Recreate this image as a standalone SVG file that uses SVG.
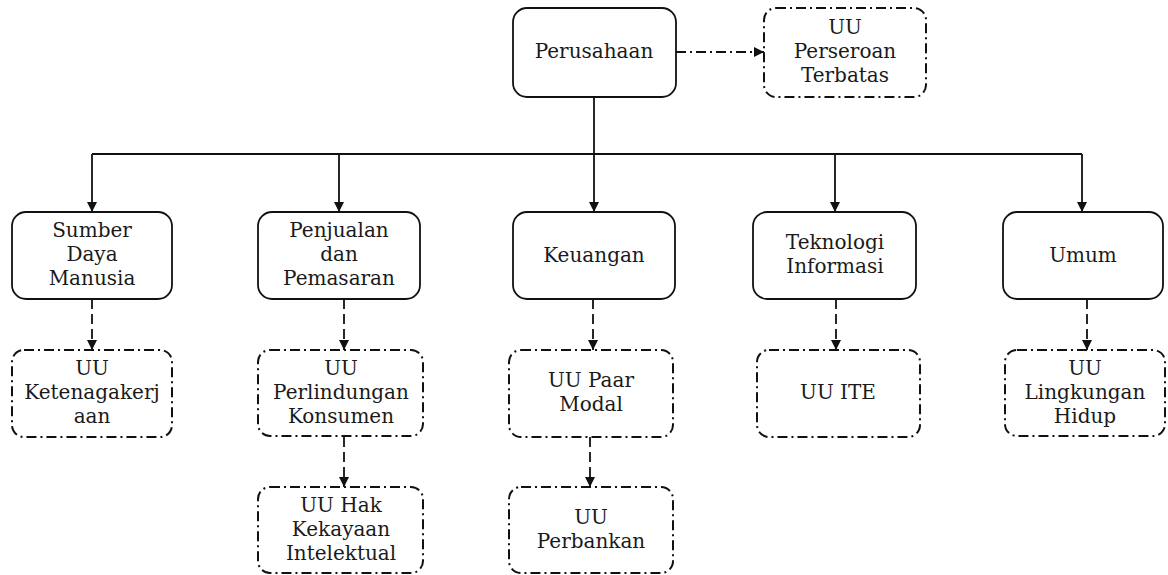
<svg xmlns="http://www.w3.org/2000/svg" width="1168" height="575" viewBox="0 0 1168 575">
  <style>
    .solid { fill: #fff; stroke: #111; stroke-width: 1.8; }
    .law { fill: #fff; stroke: #111; stroke-width: 2; stroke-dasharray: 10 4 2 4; }
    .lbl { font-family: "DejaVu Serif", "Liberation Serif", serif; font-size: 20px; fill: #1a1a1a; text-anchor: middle; }
    .tree { fill: none; stroke: #111; stroke-width: 1.8; }
    .dash { fill: none; stroke: #111; stroke-width: 1.8; stroke-dasharray: 10 5; }
    .dashdot { fill: none; stroke: #111; stroke-width: 1.8; stroke-dasharray: 10 4 2 4; }
  </style>
  <defs>
    <marker id="arrow" viewBox="0 0 10 10" refX="10" refY="5" markerWidth="10" markerHeight="10" markerUnits="userSpaceOnUse" orient="auto">
      <path d="M0,0 L10,5 L0,10 Z" fill="#111"/>
    </marker>
  </defs>

  <rect width="1168" height="575" fill="#fff"/>

  <!-- connectors -->
  <g id="connectors">
    <path class="tree" d="M594,97 V154" stroke-width="2.6"/>
    <path class="tree" d="M92,154 H1082"/>
    <path class="tree" d="M92,154 V212" marker-end="url(#arrow)"/>
    <path class="tree" d="M339,154 V212" marker-end="url(#arrow)"/>
    <path class="tree" d="M594,154 V212" marker-end="url(#arrow)"/>
    <path class="tree" d="M835,154 V212" marker-end="url(#arrow)"/>
    <path class="tree" d="M1082,154 V212" marker-end="url(#arrow)"/>
    <path class="dashdot" d="M676,52 H764" marker-end="url(#arrow)"/>
    <path class="dash" d="M92,299 V350" marker-end="url(#arrow)"/>
    <path class="dash" d="M344,299 V350" marker-end="url(#arrow)"/>
    <path class="dash" d="M593,299 V350" marker-end="url(#arrow)"/>
    <path class="dash" d="M836,299 V350" marker-end="url(#arrow)"/>
    <path class="dash" d="M1087,299 V350" marker-end="url(#arrow)"/>
    <path class="dash" d="M344,437 V487" marker-end="url(#arrow)"/>
    <path class="dash" d="M590,437 V487" marker-end="url(#arrow)"/>
  </g>

  <!-- top level -->
  <g id="perusahaan">
    <rect class="solid" x="513" y="8" width="163" height="89" rx="14"/>
    <text class="lbl" x="594" y="58">Perusahaan</text>
  </g>
  <g id="uu-pt">
    <rect class="law" x="764" y="8" width="162" height="89" rx="12"/>
    <text class="lbl" x="845" y="34">UU</text>
    <text class="lbl" x="845" y="58">Perseroan</text>
    <text class="lbl" x="845" y="82">Terbatas</text>
  </g>

  <!-- departments -->
  <g id="sdm">
    <rect class="solid" x="12" y="212" width="160" height="87" rx="14"/>
    <text class="lbl" x="92" y="237">Sumber</text>
    <text class="lbl" x="92" y="261">Daya</text>
    <text class="lbl" x="92" y="285">Manusia</text>
  </g>
  <g id="penjualan">
    <rect class="solid" x="258" y="212" width="162" height="87" rx="14"/>
    <text class="lbl" x="339" y="237">Penjualan</text>
    <text class="lbl" x="339" y="261">dan</text>
    <text class="lbl" x="339" y="285">Pemasaran</text>
  </g>
  <g id="keuangan">
    <rect class="solid" x="513" y="212" width="162" height="87" rx="14"/>
    <text class="lbl" x="594" y="262">Keuangan</text>
  </g>
  <g id="ti">
    <rect class="solid" x="753" y="212" width="163" height="87" rx="14"/>
    <text class="lbl" x="835" y="249">Teknologi</text>
    <text class="lbl" x="835" y="273">Informasi</text>
  </g>
  <g id="umum">
    <rect class="solid" x="1003" y="212" width="160" height="87" rx="14"/>
    <text class="lbl" x="1083" y="262">Umum</text>
  </g>

  <!-- laws -->
  <g id="uu-ketenagakerjaan">
    <rect class="law" x="12" y="350" width="160" height="87" rx="12"/>
    <text class="lbl" x="92" y="375">UU</text>
    <text class="lbl" x="92" y="399">Ketenagakerj</text>
    <text class="lbl" x="92" y="423">aan</text>
  </g>
  <g id="uu-konsumen">
    <rect class="law" x="258" y="350" width="165" height="86" rx="12"/>
    <text class="lbl" x="341" y="375">UU</text>
    <text class="lbl" x="341" y="399">Perlindungan</text>
    <text class="lbl" x="341" y="423">Konsumen</text>
  </g>
  <g id="uu-hki">
    <rect class="law" x="258" y="487" width="165" height="86" rx="12"/>
    <text class="lbl" x="341" y="512">UU Hak</text>
    <text class="lbl" x="341" y="536">Kekayaan</text>
    <text class="lbl" x="341" y="560">Intelektual</text>
  </g>
  <g id="uu-pasar-modal">
    <rect class="law" x="509" y="350" width="164" height="87" rx="12"/>
    <text class="lbl" x="591" y="387">UU Paar</text>
    <text class="lbl" x="591" y="411">Modal</text>
  </g>
  <g id="uu-perbankan">
    <rect class="law" x="509" y="487" width="164" height="86" rx="12"/>
    <text class="lbl" x="591" y="524">UU</text>
    <text class="lbl" x="591" y="548">Perbankan</text>
  </g>
  <g id="uu-ite">
    <rect class="law" x="757" y="350" width="163" height="87" rx="12"/>
    <text class="lbl" x="838" y="399">UU ITE</text>
  </g>
  <g id="uu-lingkungan">
    <rect class="law" x="1005" y="350" width="160" height="86" rx="12"/>
    <text class="lbl" x="1085" y="375">UU</text>
    <text class="lbl" x="1085" y="399">Lingkungan</text>
    <text class="lbl" x="1085" y="423">Hidup</text>
  </g>
</svg>
